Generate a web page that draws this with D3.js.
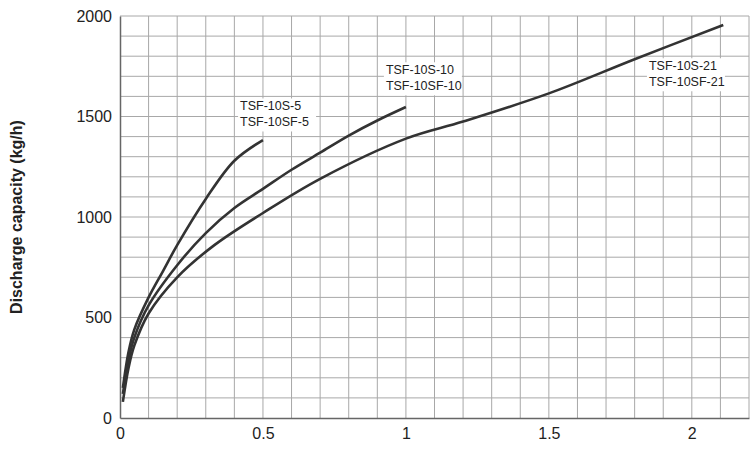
<!DOCTYPE html>
<html><head><meta charset="utf-8">
<script src="https://cdn.jsdelivr.net/npm/d3@7"></script>
<style>body{margin:0;background:#fff}svg{font-family:"Liberation Sans",Arial,sans-serif}</style>
</head><body><svg id="c" width="753" height="453"></svg>
<script>
// data
const s5 = [[0.01,150],[0.03,330],[0.05,440],[0.1,600],[0.15,730],[0.2,860],[0.3,1090],[0.4,1280],[0.5,1383]];
const s10 = [[0.01,120],[0.03,290],[0.05,400],[0.1,560],[0.2,760],[0.3,920],[0.4,1045],[0.5,1140],[0.6,1235],[0.7,1320],[0.8,1405],[0.9,1480],[1.0,1547]];
const s21 = [[0.01,80],[0.03,250],[0.05,360],[0.1,520],[0.2,700],[0.33,860],[0.5,1020],[0.7,1190],[1.0,1390],[1.2,1475],[1.5,1615],[1.8,1785],[2.11,1955]];
const labels = [
  {x:0.42, y:1530, lines:["TSF-10S-5","TSF-10SF-5"]},
  {x:0.93, y:1710, lines:["TSF-10S-10","TSF-10SF-10"]},
  {x:1.85, y:1730, lines:["TSF-10S-21","TSF-10SF-21"]}
];
const xTicks = [0, 0.5, 1, 1.5, 2];
const yTicks = [0, 500, 1000, 1500, 2000];

const svg = d3.select('#c');
const x = d3.scaleLinear().domain([0, 2.2]).range([120, 749]);
const y = d3.scaleLinear().domain([0, 2000]).range([418, 16]);

// grid
const grid = svg.append('g').attr('stroke', '#a8a8a8').attr('stroke-width', 1);
grid.selectAll('.v').data(d3.range(1, 23).map(i => i / 10)).join('line')
  .attr('x1', d => x(d)).attr('x2', d => x(d)).attr('y1', y(0)).attr('y2', y(2000));
grid.selectAll('.h').data(d3.range(1, 21).map(i => i * 100)).join('line')
  .attr('x1', x(0)).attr('x2', x(2.2)).attr('y1', d => y(d)).attr('y2', d => y(d));

// axes
const ax = svg.append('g').attr('transform', `translate(0,${y(0)})`)
  .call(d3.axisBottom(x).tickValues(xTicks).tickSize(0).tickPadding(10).tickFormat(d3.format('')));
const ay = svg.append('g').attr('transform', `translate(${x(0)},0)`)
  .call(d3.axisLeft(y).tickValues(yTicks).tickSize(0).tickPadding(8).tickFormat(d3.format('d')));
[ax, ay].forEach(a => {
  a.select('.domain').attr('stroke', '#666').attr('stroke-width', 1.5);
  a.selectAll('text').attr('font-size', 16).attr('fill', '#222').attr('font-family', '"Liberation Sans",Arial,sans-serif');
});

svg.append('text').attr('transform', 'translate(22,217) rotate(-90)')
  .attr('text-anchor', 'middle').attr('font-size', 16).attr('font-weight', 'bold').attr('fill', '#222')
  .text('Discharge capacity (kg/h)');

// curves
const line = d3.line().x(d => x(d[0])).y(d => y(d[1])).curve(d3.curveCatmullRom);
svg.append('g').selectAll('path').data([s5, s10, s21]).join('path')
  .attr('d', line).attr('fill', 'none').attr('stroke', '#333').attr('stroke-width', 2.6);

// labels
const lg = svg.append('g').selectAll('g').data(labels).join('g')
  .attr('transform', d => `translate(${x(d.x)},${y(d.y)})`);
lg.append('rect').attr('x', -2).attr('y', -12).attr('width', 78).attr('height', 33).attr('fill', '#fff');
lg.selectAll('text').data(d => d.lines).join('text')
  .attr('y', (d, i) => i * 16).attr('font-size', 12.5).attr('fill', '#222').text(d => d);
</script></body></html>
